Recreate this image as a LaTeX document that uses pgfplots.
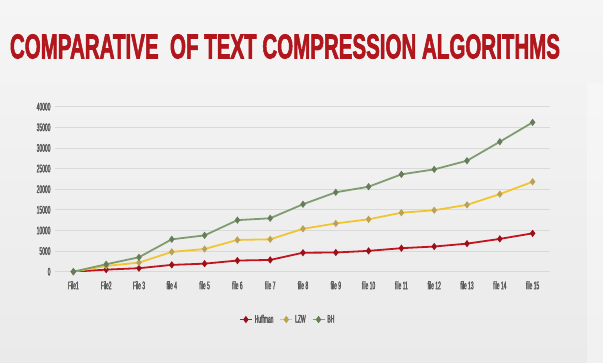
\documentclass[border=0pt]{standalone}
\usepackage{pgfplots}
\pgfplotsset{compat=1.18}
\usepackage{fontspec}
\setmainfont{Liberation Sans}
\newfontfamily\condfont[FakeStretch=0.45,FakeBold=2]{Liberation Sans}
\newfontfamily\titlefont[FakeBold=2.5]{Liberation Sans}
\definecolor{bgtop}{HTML}{F5F5F5}
\definecolor{bgbot}{HTML}{EAEAEA}
\definecolor{titlered}{HTML}{B0161C}
\definecolor{hufred}{HTML}{C0141E}
\definecolor{lzwyel}{HTML}{F2C530}
\definecolor{bhgreen}{HTML}{7F9C70}
\definecolor{ticktext}{HTML}{5A5A5A}
\definecolor{gridc}{HTML}{D9D9D9}
\begin{document}
\begin{tikzpicture}
\useasboundingbox (0pt,0pt) rectangle (603pt,363pt);
\shade[top color=bgtop, bottom color=bgbot] (0pt,0pt) rectangle (603pt,363pt);
\fill[white, opacity=0.35] (587pt,0pt) rectangle (603pt,280pt);
\node[text=titlered] at (285pt,316.5pt) {\resizebox{550pt}{24pt}{\titlefont\bfseries COMPARATIVE\ \ OF TEXT COMPRESSION ALGORITHMS}};
\begin{axis}[
  at={(55pt,91.3pt)}, anchor=south west,
  scale only axis, width=495pt, height=165pt,
  xmin=-0.56, xmax=14.53, ymin=0, ymax=40000,
  axis line style={draw=none},
  ytick={0,5000,...,40000},
  yticklabels={0,5000,10000,15000,20000,25000,30000,35000,40000},
  scaled y ticks=false,
  xtick={0,...,14},
  xticklabels={File1,File2,File 3,file 4,file 5,file 6,file 7,file 8,file 9,file 10,file 11,file 12,file 13,file 14,file 15},
  tick style={draw=none},
  ymajorgrids, grid style={gridc, line width=0.8pt},
  tick label style={font=\condfont\fontsize{11}{12}\selectfont, text=ticktext},
  /pgf/number format/assume math mode=true,
  xticklabel style={yshift=-6pt},
  yticklabel style={xshift=-1pt},
  legend style={at={(0.47,-0.29)}, anchor=center, draw=none, fill=none,
    legend columns=-1, font=\condfont\fontsize{11}{12}\selectfont\color{ticktext},
    /tikz/every even column/.append style={column sep=4pt}},
  legend image code/.code={\draw[#1] (0pt,0pt) -- (12pt,0pt); \draw[#1, mark repeat=1] plot coordinates {(6pt,0pt)};},
]
\addplot[color=hufred, line width=1.8pt, mark=diamond*, mark size=2.2pt, mark options={fill=hufred!80!black, draw=hufred!80!black}] coordinates {
(0,0) (1,500) (2,850) (3,1650) (4,1950) (5,2700) (6,2850) (7,4600) (8,4650) (9,5050) (10,5700) (11,6100) (12,6800) (13,7950) (14,9300)};
\addlegendentry{Huffman}
\addplot[color=lzwyel, line width=1.8pt, mark=diamond*, mark size=2.2pt, mark options={fill=lzwyel!50!gray, draw=lzwyel!50!gray}] coordinates {
(0,0) (1,1400) (2,2200) (3,4800) (4,5500) (5,7700) (6,7850) (7,10400) (8,11700) (9,12700) (10,14300) (11,14900) (12,16200) (13,18800) (14,21800)};
\addlegendentry{LZW}
\addplot[color=bhgreen, line width=1.8pt, mark=diamond*, mark size=2.2pt, mark options={fill=bhgreen!80!black, draw=bhgreen!80!black}] coordinates {
(0,0) (1,1800) (2,3500) (3,7850) (4,8800) (5,12500) (6,12950) (7,16350) (8,19250) (9,20600) (10,23600) (11,24800) (12,26900) (13,31500) (14,36200)};
\addlegendentry{BH}
\end{axis}
\end{tikzpicture}
\end{document}
